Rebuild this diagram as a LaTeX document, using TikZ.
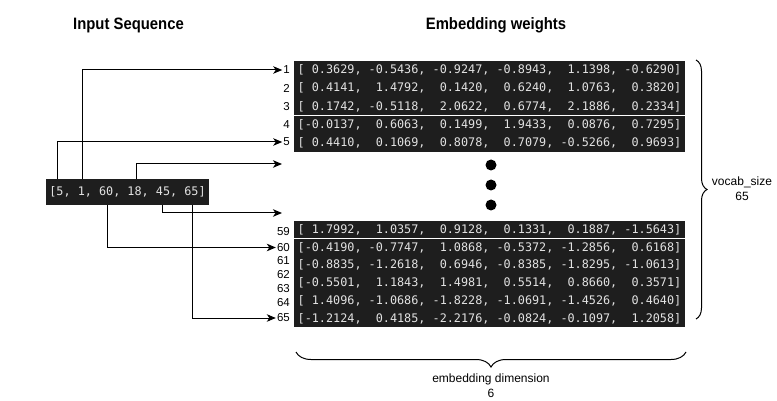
\documentclass[tikz,border=0pt]{standalone}
\usepackage{fontspec}
\setmainfont{Liberation Sans}
\newfontfamily\monof{DejaVu Sans Mono}
\newfontfamily\titlef{Liberation Sans}[FakeStretch=0.9]
\usetikzlibrary{arrows.meta,decorations.pathreplacing}
\definecolor{codebg}{HTML}{1E1E1E}
\definecolor{codefg}{HTML}{E2E2E2}
\begin{document}
\begin{tikzpicture}[x=1pt,y=-1pt,
  codebox/.style={fill=codebg,text=codefg,font=\monof\fontsize{11.8}{13}\selectfont,inner sep=0pt},
  toprow/.style={codebox,minimum width=391pt,minimum height=18.0pt},
  botrow/.style={codebox,minimum width=391pt,minimum height=17.5pt},
  idx/.style={font=\fontsize{11.5}{12}\selectfont,anchor=east,inner sep=1pt},
  arr/.style={-{Stealth[length=9pt,width=7.5pt,inset=2.5pt]},line width=1pt},
  title/.style={font=\titlef\bfseries\fontsize{16.5}{18}\selectfont,anchor=base},
  lbl/.style={font=\fontsize{12}{15}\selectfont,align=center},
  dotn/.style={circle,fill=black,minimum size=11pt,inner sep=0pt},
  bracel/.style={decorate,line width=1pt}
]
\fill[white] (0,0) rectangle (777,401);
\useasboundingbox (0,0) rectangle (777,401);

% titles
\node[title] (t1) at (128.5,30) {Input Sequence};
\node[title] (t2) at (496,30) {Embedding weights};

% input sequence
\node[codebox,minimum width=163pt,minimum height=26pt] (seq) at (127.5,192) {[5,~1,~60,~18,~45,~65]};

% top block
\node[toprow] (m1) at (489.5,69.8) {[~0.3629,~-0.5436,~-0.9247,~-0.8943,~~1.1398,~-0.6290]};
\node[toprow] (m2) at (489.5,88.1) {[~0.4141,~~1.4792,~~0.1420,~~0.6240,~~1.0763,~~0.3820]};
\node[toprow] (m3) at (489.5,106.4) {[~0.1742,~-0.5118,~~2.0622,~~0.6774,~~2.1886,~~0.2334]};
\node[toprow] (m4) at (489.5,124.7) {[-0.0137,~~0.6063,~~0.1499,~~1.9433,~~0.0876,~~0.7295]};
\node[toprow] (m5) at (489.5,143.0) {[~0.4410,~~0.1069,~~0.8078,~~0.7079,~-0.5266,~~0.9693]};

% bottom block
\node[botrow] (m59) at (489.5,229.6) {[~1.7992,~~1.0357,~~0.9128,~~0.1331,~~0.1887,~-1.5643]};
\node[botrow] (m60) at (489.5,247.4) {[-0.4190,~-0.7747,~~1.0868,~-0.5372,~-1.2856,~~0.6168]};
\node[botrow] (m61) at (489.5,265.2) {[-0.8835,~-1.2618,~~0.6946,~-0.8385,~-1.8295,~-1.0613]};
\node[botrow] (m62) at (489.5,283.0) {[-0.5501,~~1.1843,~~1.4981,~~0.5514,~~0.8660,~~0.3571]};
\node[botrow] (m64) at (489.5,300.9) {[~1.4096,~-1.0686,~-1.8228,~-1.0691,~-1.4526,~~0.4640]};
\node[botrow] (m65) at (489.5,318.7) {[-1.2124,~~0.4185,~-2.2176,~-0.0824,~-0.1097,~~1.2058]};

% row indices
\node[idx] (r1) at (291,70) {1};
\node[idx] (r2) at (291,88.1) {2};
\node[idx] (r3) at (291,106.4) {3};
\node[idx] (r4) at (291,124.7) {4};
\node[idx] (r5) at (291,142) {5};
\node[idx] (r59) at (291,232) {59};
\node[idx] (r60) at (291,247.5) {60};
\node[idx] (r61) at (291,261) {61};
\node[idx] (r62) at (291,275) {62};
\node[idx] (r63) at (291,289) {63};
\node[idx] (r64) at (291,303) {64};
\node[idx] (r65) at (291,318) {65};

% ellipsis dots
\node[dotn] (d1) at (491,165) {};
\node[dotn] (d2) at (491,185) {};
\node[dotn] (d3) at (491,205) {};

% connector anchors on the sequence box
\coordinate (s5) at (57,179);
\coordinate (s1) at (82,179);
\coordinate (s18) at (136,179);
\coordinate (s60) at (107,205);
\coordinate (s45) at (162,205);
\coordinate (s65) at (192,205);
\coordinate (e18) at (282,164);
\coordinate (e45) at (282,213);

\draw[arr] (s1) |- (r1.west);
\draw[arr] (s5) |- (r5.west);
\draw[arr] (s18) |- (e18);
\draw[arr] (s45) |- (e45);
\draw[arr] (s60) |- (r60.west);
\draw[arr] (s65) |- (r65.west);

% braces
\coordinate (vb1) at (696,60);
\coordinate (vb2) at (696,319);
\draw[bracel,decoration={brace,amplitude=11pt}] (vb1) -- (vb2);
\node[lbl] (vs) at (742,189) {vocab\_size\\65};

\coordinate (hb1) at (686,352);
\coordinate (hb2) at (296,352);
\draw[bracel,decoration={brace,amplitude=15pt}] (hb1) -- (hb2);
\node[lbl] (ed) at (491,385.5) {embedding dimension\\6};
\end{tikzpicture}
\end{document}
